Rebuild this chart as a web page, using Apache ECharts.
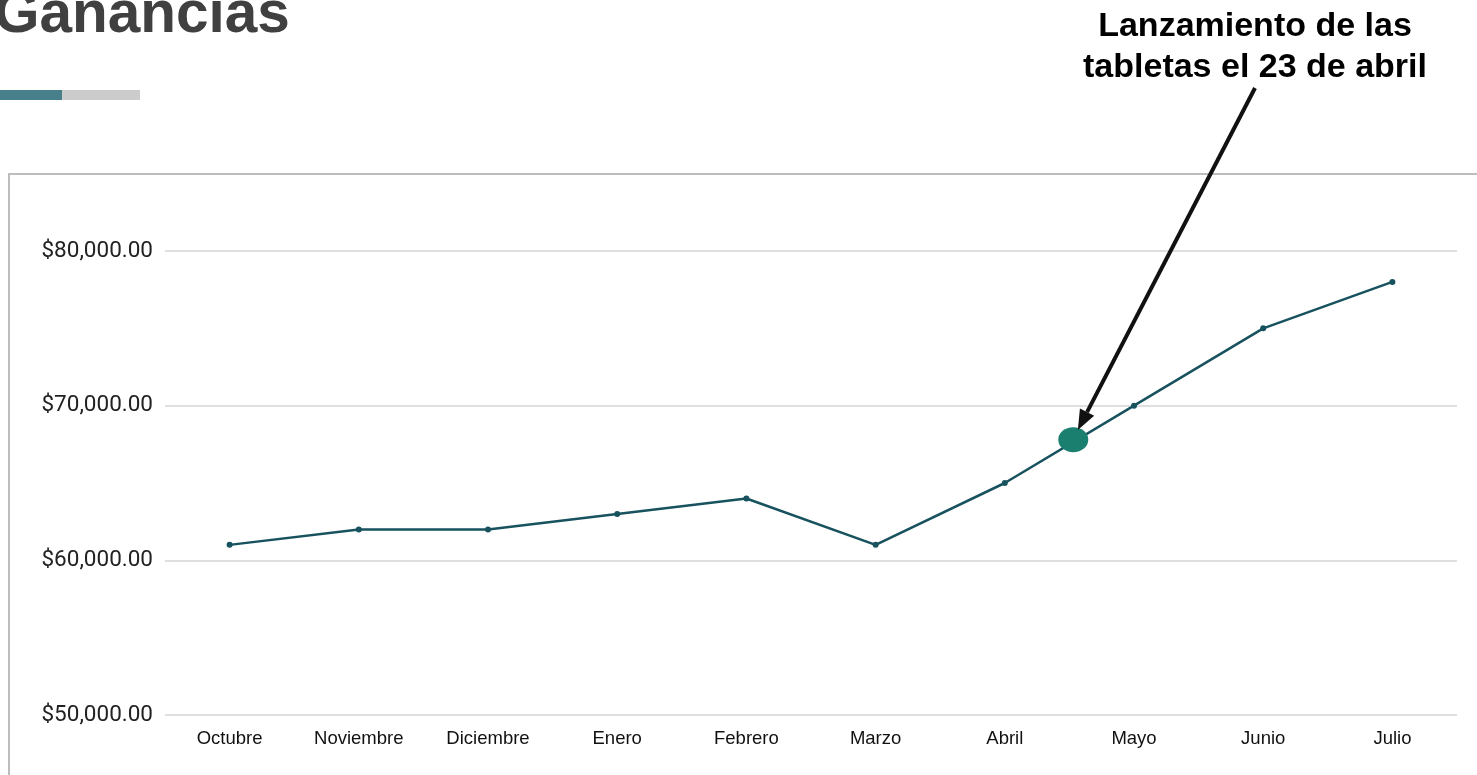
<!DOCTYPE html>
<html>
<head>
<meta charset="utf-8">
<script src="https://cdn.jsdelivr.net/npm/echarts@6/dist/echarts.min.js"></script>
<style>
html,body{margin:0;padding:0;background:#fff;}
#c{width:1477px;height:775px;}
</style>
</head>
<body>
<div id="c"></div>
<script>
const categories = ['Octubre','Noviembre','Diciembre','Enero','Febrero','Marzo','Abril','Mayo','Junio','Julio'];
const earnings = [61000, 62000, 62000, 63000, 64000, 61000, 65000, 70000, 75000, 78000];
const yTicks = [50000, 60000, 70000, 80000];
const launchPoint = [6.53, 67800];
const titleText = 'Ganancias';
const annotationLines = ['Lanzamiento de las', 'tabletas el 23 de abril'];

const chart = echarts.init(document.getElementById('c'), null, {renderer: 'canvas'});

function fmt(v){
  return '$' + v.toLocaleString('en-US', {minimumFractionDigits: 2, maximumFractionDigits: 2});
}

const option = {
  animation: false,
  backgroundColor: '#ffffff',
  grid: {left: 165, right: 20, top: 251, bottom: 60, containLabel: false},
  xAxis: [
    {
      type: 'category',
      data: categories,
      boundaryGap: true,
      axisLine: {show: false},
      axisTick: {show: false},
      axisLabel: {color: '#111', fontFamily: '"Liberation Sans", Arial', fontSize: 18.5, margin: 14}
    },
    {
      type: 'value', min: -0.5, max: categories.length - 0.5, show: false
    }
  ],
  yAxis: {
    type: 'value',
    min: yTicks[0], max: yTicks[yTicks.length - 1], interval: 10000,
    axisLine: {show: false},
    axisTick: {show: false},
    splitLine: {lineStyle: {color: '#d4d4d4', width: 1.5}},
    axisLabel: {color: '#222', fontFamily: 'Roboto', fontSize: 22.5, margin: 12, formatter: fmt}
  },
  series: [
    {
      type: 'line',
      data: earnings,
      symbol: 'circle',
      symbolSize: 6,
      lineStyle: {color: '#17525e', width: 2.5},
      itemStyle: {color: '#17525e'}
    },
    {
      type: 'scatter',
      xAxisIndex: 1,
      data: [launchPoint],
      symbol: 'circle',
      symbolSize: [30, 25],
      itemStyle: {color: '#1a7f6e', opacity: 1},
      z: 5
    }
  ]
};
chart.setOption(option);

const p = chart.convertToPixel({xAxisIndex: 1, yAxisIndex: 0}, launchPoint);
const start = [1255, 88];
const dx = p[0] - start[0], dy = p[1] - start[1];
const len = Math.sqrt(dx*dx + dy*dy);
const ux = dx/len, uy = dy/len;
const tip = [p[0] - ux*10, p[1] - uy*11];
const headLen = 20, headW = 8;
const base = [tip[0] - ux*headLen, tip[1] - uy*headLen];
const nx = -uy, ny = ux;

chart.setOption({
  graphic: [
    {type: 'rect', shape: {x: 9, y: 174, width: 1500, height: 700}, style: {fill: 'none', stroke: '#bdbdbd', lineWidth: 2}, z: -10},
    {type: 'text', x: -6, y: 16, style: {text: titleText, fill: '#404040', font: 'bold 58.5px "Liberation Sans", Arial', verticalAlign: 'middle'}},
    {type: 'rect', shape: {x: 0, y: 90, width: 62, height: 10}, style: {fill: '#47808b'}},
    {type: 'rect', shape: {x: 62, y: 90, width: 78, height: 10}, style: {fill: '#cccccc'}},
    {type: 'text', x: 1255, y: 27, style: {text: annotationLines[0], fill: '#000', font: 'bold 34px "Liberation Sans", Arial', align: 'center', verticalAlign: 'middle'}},
    {type: 'text', x: 1255, y: 68, style: {text: annotationLines[1], fill: '#000', font: 'bold 34px "Liberation Sans", Arial', align: 'center', verticalAlign: 'middle'}},
    {type: 'line', shape: {x1: start[0], y1: start[1], x2: base[0], y2: base[1]}, style: {stroke: '#111', lineWidth: 4}, z: 10},
    {type: 'polygon', shape: {points: [tip, [base[0] + nx*headW, base[1] + ny*headW], [base[0] - nx*headW, base[1] - ny*headW]]}, style: {fill: '#111'}, z: 10}
  ]
});
</script>
</body>
</html>
